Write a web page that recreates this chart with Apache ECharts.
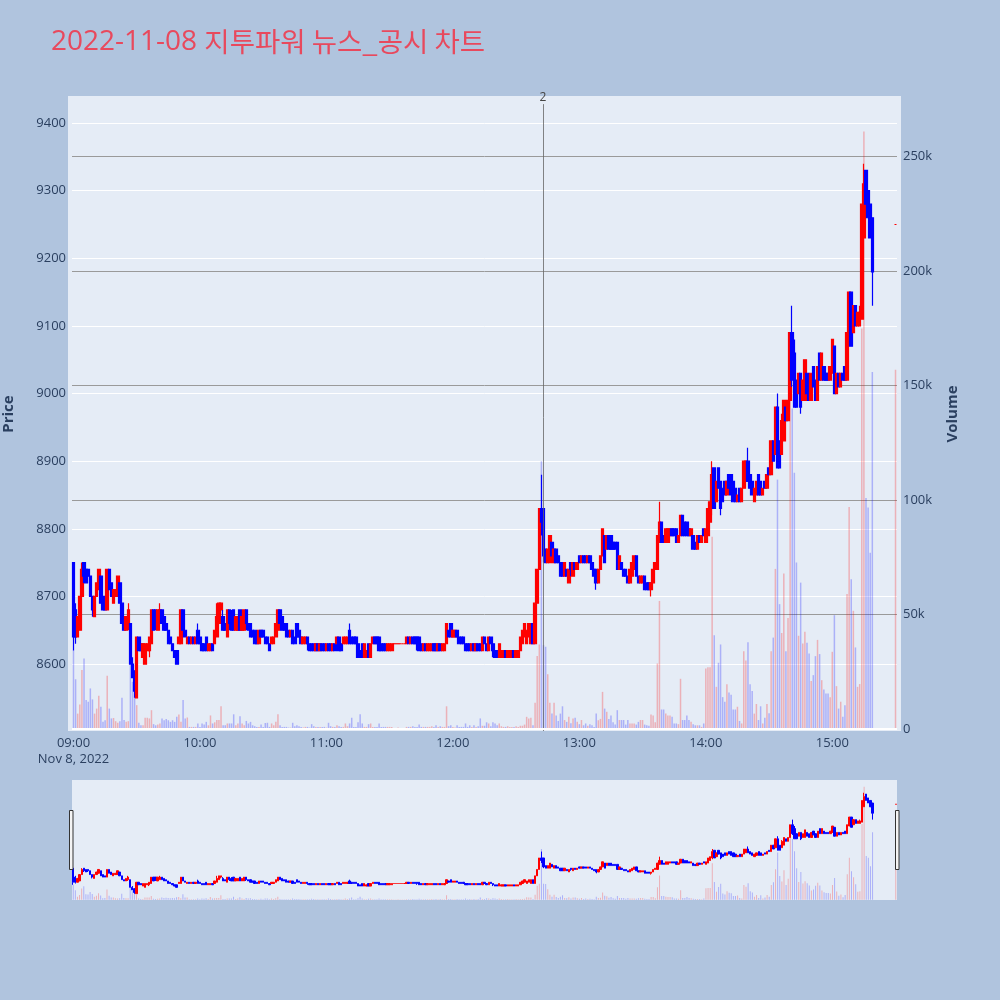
<!DOCTYPE html>
<html>
<head>
<meta charset="utf-8">
<script src="https://cdn.jsdelivr.net/npm/echarts@6/dist/echarts.min.js"></script>
<style>
html,body{margin:0;padding:0;background:#b0c4de;}
#chart{width:1000px;height:1000px;}
</style>
</head>
<body>
<div id="chart"></div>
<script>
// ---------------- DATA ----------------
const chartTitleDate = '2022-11-08';
const chartTitleText = '지투파워 뉴스_공시 차트';
const tradeDay = { year: 2022, month: 11, day: 8 };
const dateLabel = 'Nov 8, 2022';
const sessionStart = '09:00';      // first 1-minute candle, then one candle per minute
const closingAuction = '15:30';    // last (single-price) candle
const newsEvents = [{ time: '12:42:42', label: '2' }];

const opens = [
8750,8680,8640,8650,8700,8750,8740,8740,8730,8700,
8670,8700,8710,8730,8700,8690,8680,8740,8720,8690,
8700,8700,8720,8690,8660,8650,8660,8660,8600,8590,
8550,8640,8630,8610,8600,8620,8620,8630,8680,8680,
8650,8660,8680,8670,8660,8650,8640,8630,8620,8620,
8630,8630,8680,8650,8630,8640,8630,8640,8630,8650,
8640,8630,8630,8640,8620,8620,8630,8630,8640,8660,
8680,8670,8660,8640,8680,8670,8680,8650,8650,8680,
8650,8650,8680,8660,8660,8650,8650,8640,8630,8650,
8650,8640,8640,8630,8630,8630,8640,8650,8680,8670,
8660,8660,8650,8640,8650,8640,8660,8650,8640,8630,
8630,8640,8630,8630,8630,8620,8630,8620,8630,8630,
8620,8630,8630,8620,8630,8630,8640,8630,8630,8630,
8630,8650,8640,8640,8640,8630,8620,8630,8610,8610,
8630,8610,8630,8640,8640,8640,8630,8630,8630,8620,
8620,8620,8630,8630,8630,8630,8630,8630,8630,8640,
8630,8640,8640,8640,8640,8630,8620,8630,8620,8620,
8620,8630,8630,8620,8630,8620,8620,8630,8650,8660,
8640,8640,8650,8640,8640,8640,8630,8630,8630,8620,
8630,8620,8630,8630,8620,8640,8630,8620,8640,8630,
8620,8620,8610,8610,8610,8620,8610,8610,8610,8620,
8610,8610,8620,8630,8640,8630,8640,8630,8660,8630,
8690,8740,8830,8830,8770,8750,8750,8780,8750,8770,
8760,8750,8750,8730,8740,8720,8750,8730,8750,8740,
8760,8750,8760,8760,8750,8760,8750,8740,8740,8720,
8740,8760,8790,8770,8790,8790,8780,8780,8780,8740,
8750,8740,8740,8730,8720,8730,8740,8760,8730,8720,
8720,8730,8720,8720,8710,8720,8740,8740,8780,8810,
8790,8780,8780,8790,8800,8800,8800,8780,8790,8820,
8810,8810,8800,8790,8790,8780,8770,8790,8780,8800,
8780,8790,8810,8830,8890,8840,8890,8870,8860,8870,
8850,8880,8880,8870,8860,8840,8860,8840,8860,8870,
8900,8880,8870,8840,8850,8880,8870,8850,8870,8860,
8890,8880,8930,8910,8980,8930,8910,8930,8980,8960,
8990,9090,9060,9020,9000,9030,8990,8990,9030,9020,
8990,9040,9020,8990,9060,9020,9040,9030,9030,9020,
9030,9070,9000,9030,9010,9030,9040,9020,9080,9150,
9090,9130,9100,9100,9110,9230,9330,9300,9280,9260,
9250];

const closes = [
8640,8640,8670,8700,8740,8730,8720,8730,8700,8680,
8700,8720,8740,8690,8680,8680,8740,8710,8700,8710,
8710,8730,8690,8660,8650,8670,8680,8600,8580,8560,
8640,8620,8620,8630,8630,8630,8640,8680,8650,8660,
8680,8680,8660,8650,8650,8630,8630,8620,8610,8600,
8640,8680,8650,8640,8640,8630,8640,8630,8640,8630,
8630,8620,8620,8620,8630,8630,8620,8650,8670,8690,
8690,8650,8650,8680,8660,8650,8650,8670,8670,8650,
8670,8680,8660,8650,8640,8640,8630,8630,8650,8640,
8640,8630,8630,8620,8640,8640,8660,8680,8660,8650,
8650,8640,8640,8650,8630,8630,8640,8640,8630,8640,
8640,8630,8620,8620,8620,8630,8620,8630,8620,8620,
8630,8620,8620,8630,8620,8640,8620,8620,8640,8640,
8640,8630,8630,8630,8630,8610,8610,8610,8630,8620,
8610,8630,8640,8630,8630,8620,8620,8620,8620,8630,
8630,8630,8630,8630,8630,8630,8630,8630,8640,8630,
8640,8630,8630,8630,8620,8620,8630,8620,8630,8630,
8630,8620,8620,8630,8620,8630,8630,8660,8640,8640,
8650,8650,8640,8630,8630,8630,8620,8620,8620,8630,
8620,8630,8620,8620,8640,8630,8620,8640,8630,8620,
8610,8610,8630,8620,8620,8610,8620,8620,8620,8610,
8620,8620,8640,8650,8660,8650,8660,8660,8630,8690,
8740,8830,8810,8760,8750,8770,8790,8760,8770,8750,
8750,8730,8730,8750,8730,8740,8740,8750,8740,8750,
8750,8760,8750,8750,8760,8750,8740,8730,8720,8740,
8760,8800,8750,8790,8770,8770,8770,8770,8740,8760,
8740,8730,8730,8720,8740,8750,8760,8730,8720,8730,
8730,8710,8710,8710,8720,8740,8750,8790,8810,8780,
8780,8800,8800,8800,8790,8790,8780,8790,8820,8790,
8790,8790,8790,8800,8770,8770,8790,8780,8790,8790,
8800,8830,8840,8880,8830,8870,8860,8830,8840,8850,
8870,8860,8850,8840,8840,8850,8840,8860,8900,8900,
8870,8860,8850,8860,8870,8850,8850,8860,8860,8880,
8880,8930,8900,8980,8890,8890,8960,8990,8960,8990,
9090,9020,8980,8980,9030,8980,9020,9050,9000,8990,
9030,9010,8990,9040,9020,9060,9020,9020,9020,9040,
9080,9000,9030,9010,9030,9020,9020,9090,9150,9070,
9130,9100,9120,9120,9280,9310,9280,9260,9230,9180,
9250];

const lows = [
8620,8630,8640,8650,8700,8720,8720,8720,8700,8670,
8670,8700,8710,8690,8680,8680,8680,8710,8700,8690,
8700,8700,8690,8660,8650,8650,8650,8600,8580,8550,
8550,8620,8620,8610,8600,8620,8610,8630,8650,8650,
8650,8660,8660,8650,8650,8630,8630,8620,8610,8600,
8630,8630,8650,8640,8630,8630,8630,8630,8630,8630,
8630,8620,8620,8620,8620,8620,8620,8630,8640,8660,
8670,8650,8650,8640,8650,8650,8650,8650,8650,8650,
8650,8650,8650,8650,8640,8640,8630,8630,8630,8640,
8640,8630,8630,8620,8630,8630,8640,8650,8660,8650,
8650,8640,8640,8640,8630,8630,8640,8640,8630,8630,
8630,8620,8620,8620,8620,8620,8620,8620,8620,8620,
8620,8620,8620,8620,8620,8630,8620,8620,8630,8630,
8630,8630,8630,8630,8630,8610,8610,8610,8610,8610,
8610,8610,8630,8630,8630,8620,8620,8620,8620,8620,
8620,8620,8630,8630,8630,8630,8630,8630,8630,8630,
8630,8630,8630,8620,8620,8620,8620,8620,8620,8620,
8620,8620,8620,8620,8620,8620,8620,8630,8640,8640,
8640,8640,8640,8630,8630,8630,8620,8620,8620,8620,
8620,8620,8620,8620,8620,8630,8620,8620,8630,8610,
8610,8610,8610,8610,8610,8610,8610,8610,8610,8610,
8610,8610,8620,8630,8640,8630,8640,8630,8630,8630,
8690,8740,8790,8750,8750,8750,8750,8760,8750,8750,
8750,8730,8730,8730,8730,8720,8730,8730,8740,8740,
8750,8750,8750,8750,8750,8750,8740,8730,8710,8720,
8740,8760,8750,8770,8770,8770,8770,8770,8740,8740,
8740,8730,8730,8720,8720,8730,8740,8730,8720,8720,
8720,8710,8710,8710,8700,8720,8740,8740,8780,8780,
8780,8780,8780,8790,8790,8790,8780,8780,8790,8790,
8790,8790,8790,8790,8770,8770,8770,8780,8780,8790,
8780,8790,8810,8820,8830,8840,8860,8820,8840,8850,
8850,8860,8850,8840,8840,8840,8840,8840,8860,8870,
8870,8860,8850,8840,8850,8850,8850,8850,8860,8860,
8880,8880,8900,8910,8890,8890,8910,8930,8960,8960,
8990,9010,8980,8980,9000,8970,8990,8990,9000,8990,
8990,9010,8990,8990,9020,9020,9020,9020,9020,9020,
9030,9000,9000,9010,9010,9020,9020,9020,9080,9070,
9090,9100,9100,9100,9110,9230,9280,9260,9230,9130,
9250];

const highs = [
8750,8690,8670,8700,8750,8750,8740,8740,8730,8700,
8700,8720,8740,8730,8700,8690,8740,8740,8720,8710,
8710,8730,8720,8690,8660,8670,8690,8660,8610,8590,
8640,8640,8630,8630,8630,8630,8640,8680,8680,8680,
8680,8690,8680,8670,8660,8650,8640,8630,8620,8620,
8640,8680,8680,8650,8640,8640,8640,8640,8640,8660,
8640,8630,8630,8640,8630,8630,8630,8650,8690,8690,
8690,8680,8660,8680,8680,8680,8680,8670,8670,8680,
8670,8680,8680,8660,8660,8650,8650,8640,8650,8650,
8650,8640,8640,8630,8640,8640,8660,8680,8680,8670,
8660,8660,8650,8650,8650,8640,8660,8650,8640,8640,
8640,8640,8630,8630,8630,8630,8630,8630,8630,8630,
8630,8630,8630,8630,8630,8640,8640,8630,8640,8640,
8640,8660,8640,8640,8640,8630,8620,8630,8630,8620,
8630,8630,8640,8640,8640,8640,8630,8630,8630,8630,
8630,8630,8630,8630,8630,8630,8630,8630,8640,8640,
8640,8640,8640,8640,8640,8630,8630,8630,8630,8630,
8630,8630,8630,8630,8630,8630,8630,8660,8650,8660,
8650,8650,8650,8640,8640,8640,8630,8630,8630,8630,
8630,8630,8630,8630,8640,8640,8630,8640,8640,8630,
8620,8620,8630,8620,8620,8620,8620,8620,8620,8620,
8620,8620,8640,8650,8660,8650,8660,8660,8660,8690,
8740,8830,8880,8830,8770,8770,8790,8780,8770,8770,
8760,8750,8750,8750,8740,8740,8750,8750,8750,8750,
8760,8760,8760,8760,8760,8760,8750,8740,8740,8740,
8760,8800,8790,8790,8790,8790,8780,8780,8780,8760,
8750,8740,8740,8730,8740,8750,8760,8760,8730,8730,
8730,8730,8720,8720,8720,8740,8750,8790,8840,8810,
8790,8800,8800,8800,8800,8800,8800,8790,8820,8820,
8810,8810,8800,8800,8790,8780,8790,8790,8790,8800,
8800,8830,8840,8900,8890,8870,8890,8870,8860,8870,
8870,8880,8880,8870,8860,8850,8860,8860,8900,8900,
8920,8880,8870,8860,8870,8880,8870,8860,8870,8880,
8890,8930,8930,8980,9000,8930,8970,8990,8980,8990,
9090,9130,9080,9020,9030,9030,9020,9050,9030,9020,
9030,9040,9020,9040,9060,9060,9040,9030,9030,9040,
9080,9070,9030,9030,9030,9030,9040,9090,9150,9150,
9130,9130,9120,9130,9280,9340,9330,9300,9280,9260,
9250];

// volume in thousands of shares
const volumesK = [
34.5,21.8,6.8,10.8,25.8,30.9,12.7,12.0,17.8,13.0,
6.8,9.0,14.6,9.8,3.2,3.9,23.3,9.0,4.7,4.9,
3.5,2.8,3.5,13.7,4.0,3.2,3.5,28.0,20.7,14.0,
10.5,2.8,1.7,1.7,5.0,5.0,4.7,8.3,2.2,1.7,
2.0,2.5,4.7,3.9,4.4,3.9,3.2,3.9,3.2,5.4,
6.4,3.2,12.7,4.7,5.1,1.0,1.0,1.0,1.0,2.5,
1.0,2.5,2.0,3.2,1.7,6.0,2.5,3.0,4.0,4.0,
10.0,1.7,1.7,2.5,2.5,2.5,6.5,1.7,2.5,5.7,
2.5,1.7,3.6,2.5,3.2,1.7,1.3,1.0,1.0,2.0,
1.0,2.7,2.8,1.0,2.5,1.7,3.2,6.5,1.7,1.0,
1.0,1.0,0.7,0.7,2.8,1.3,1.7,1.3,1.0,0.7,
1.0,1.0,0.7,2.2,1.3,1.0,1.0,1.0,1.0,1.0,
0.7,2.8,1.3,1.0,1.0,1.7,1.3,1.0,1.0,2.5,
1.3,2.5,5.0,1.0,1.0,3.0,6.5,2.5,1.0,1.0,
2.2,2.5,1.0,1.0,1.0,2.5,1.0,1.0,1.0,1.0,
1.0,1.0,0.5,0.3,0.7,0.3,0.5,0.3,1.0,1.0,
1.0,1.3,1.0,1.0,2.0,1.0,1.0,1.0,1.0,1.0,
1.3,1.0,1.7,1.0,1.3,1.0,1.0,10.0,1.3,1.7,
1.0,0.7,1.7,1.0,1.0,1.0,2.5,1.0,1.7,1.0,
1.7,1.0,1.3,4.7,1.5,1.5,3.0,2.5,1.3,3.0,
2.5,1.7,2.5,1.3,1.0,1.0,1.3,1.0,1.0,1.0,
1.3,1.0,1.5,1.5,2.0,5.4,4.7,5.0,1.7,11.5,
32.0,37.0,117.0,36.7,36.0,24.0,11.5,6.8,11.5,6.0,
3.6,6.8,10.0,4.0,3.2,5.4,2.6,4.7,5.0,3.2,
2.2,4.0,1.7,2.5,1.5,2.2,1.7,1.0,6.8,3.9,
4.5,16.3,9.0,7.6,4.4,6.0,3.0,2.0,8.3,4.0,
4.0,4.0,2.0,4.0,2.5,2.5,2.5,2.0,3.2,4.0,
4.0,2.0,1.7,1.5,6.4,6.0,3.0,28.7,56.0,8.6,
8.6,6.8,6.0,6.0,5.4,2.5,2.5,2.2,22.0,4.0,
4.0,6.0,4.0,3.2,2.2,1.7,1.7,1.7,1.0,2.5,
26.5,27.0,27.0,84.0,41.0,18.5,29.0,37.0,14.0,12.0,
19.6,16.0,15.0,8.6,8.6,9.8,3.6,2.5,34.0,30.0,
38.0,19.6,16.7,6.8,11.0,4.0,10.0,2.5,5.0,11.0,
7.0,34.0,40.0,70.0,109.0,54.6,42.0,68.0,34.0,48.6,
173.0,140.0,112.0,72.8,40.8,64.0,37.4,42.5,37.7,33.0,
21.0,23.6,31.9,39.0,32.8,21.4,17.3,15.6,15.6,14.0,
33.8,49.8,18.8,9.0,12.0,5.4,10.5,59.0,97.0,65.5,
51.7,35.7,18.5,19.7,175.0,261.0,101.0,96.8,77.0,156.0,
157.0];

// ---------------- BUILD ----------------
function ts(hhmmss) {
  const p = hhmmss.split(':').map(Number);
  return new Date(tradeDay.year, tradeDay.month - 1, tradeDay.day, p[0], p[1], p[2] || 0).getTime();
}
const MIN = 60000;
const startTs = ts(sessionStart);
const times = opens.map((_, i) => i === opens.length - 1 ? ts(closingAuction) : startTs + i * MIN);

const UP = '#ff0000', DOWN = '#0000ff';
const candleData = times.map((t, i) => [t, opens[i], closes[i], lows[i], highs[i]]);
const volData = times.map((t, i) => ({
  value: [t, volumesK[i]],
  itemStyle: { color: closes[i] >= opens[i] ? 'rgba(255,0,0,0.25)' : 'rgba(0,0,255,0.25)' }
}));

const xMin = startTs - 0.35 * MIN;
const xMax = ts(closingAuction) + 0.35 * MIN;
const priceMin = 8501, priceMax = 9440;
const volMin = -0.79, volMax = 276.5;
const AXIS_TXT = '#2a3f5f';
const FONT = 'Open Sans';
const TITLE_RED = '#e8495d';

const eventLines = newsEvents.map(e => [
  { coord: [ts(e.time), 9428], label: { formatter: e.label } },
  { coord: [ts(e.time), priceMin] }
]);

const chart = echarts.init(document.getElementById('chart'), null, { renderer: 'canvas', width: 1000, height: 1000 });

const option = {
  backgroundColor: '#b0c4de',
  animation: false,
  title: {
    text: '{a|' + chartTitleDate + ' }{b|' + chartTitleText + '}',
    left: 46,
    top: 23,
    textStyle: {
      fontWeight: 'normal',
      rich: {
        a: { fontFamily: FONT, fontSize: 28, fontWeight: 'normal', color: TITLE_RED },
        b: { fontFamily: 'Noto Sans CJK KR', fontSize: 27.5, fontWeight: 'normal', color: TITLE_RED }
      }
    }
  },
  graphic: [
    { type: 'rect', z: -1, silent: true, shape: { x: 68, y: 96, width: 833, height: 635 }, style: { fill: '#e5ecf6' } },
    { type: 'rect', z: -1, silent: true, shape: { x: 72, y: 780, width: 825, height: 120 }, style: { fill: '#e5ecf6' } },
    { type: 'rect', z: 100, silent: true, shape: { x: 69.5, y: 810.5, width: 3.5, height: 59 }, style: { fill: '#f4f4f4', stroke: '#333', lineWidth: 1 } },
    { type: 'rect', z: 100, silent: true, shape: { x: 895.5, y: 810.5, width: 3.5, height: 59 }, style: { fill: '#f4f4f4', stroke: '#333', lineWidth: 1 } },
    { type: 'text', z: 100, x: 9, y: 414, rotation: Math.PI / 2,
      style: { text: 'Price', fill: AXIS_TXT, font: 'bold 15px "Open Sans"', align: 'center', verticalAlign: 'middle' } },
    { type: 'text', z: 100, x: 953, y: 414, rotation: Math.PI / 2,
      style: { text: 'Volume', fill: AXIS_TXT, font: 'bold 15px "Open Sans"', align: 'center', verticalAlign: 'middle' } }
  ],
  grid: [
    { left: 72, top: 96, width: 825, height: 635, show: false },
    { left: 72, top: 780, width: 825, height: 120, show: false }
  ],
  xAxis: [
    {
      type: 'time', gridIndex: 0, min: xMin, max: xMax,
      minInterval: 3600 * 1000, maxInterval: 3600 * 1000,
      axisLine: { show: false }, axisTick: { show: false }, splitLine: { show: false },
      axisLabel: {
        color: AXIS_TXT, fontFamily: FONT, fontSize: 13, margin: 4, lineHeight: 16,
        hideOverlap: false,
        formatter: function (v) {
          const d = new Date(v);
          if (d.getMinutes() !== 0 || d.getSeconds() !== 0) return '';
          const s = String(d.getHours()).padStart(2, '0') + ':00';
          return d.getHours() === 9 ? s + '\n' + dateLabel : s;
        }
      }
    },
    { type: 'time', gridIndex: 1, min: xMin, max: xMax, show: false }
  ],
  yAxis: [
    {
      type: 'value', gridIndex: 0, position: 'left', min: priceMin, max: priceMax, splitNumber: 10,
      axisLine: { show: false }, axisTick: { show: false },
      axisLabel: { color: AXIS_TXT, fontFamily: FONT, fontSize: 13, margin: 6, showMinLabel: false, showMaxLabel: false,
        formatter: v => String(v) },
      splitLine: { show: true, showMinLine: false, showMaxLine: false, lineStyle: { color: '#ffffff', width: 1 } }
    },
    {
      type: 'value', gridIndex: 0, position: 'right', min: volMin, max: volMax, splitNumber: 5,
      axisLine: { show: false }, axisTick: { show: false },
      axisLabel: { color: AXIS_TXT, fontFamily: FONT, fontSize: 13, margin: 6, showMinLabel: false, showMaxLabel: false,
        formatter: v => v === 0 ? '0' : v + 'k' },
      splitLine: { show: true, showMinLine: false, showMaxLine: false, lineStyle: { color: '#9a9a9a', width: 1 } }
    },
    { type: 'value', gridIndex: 1, min: priceMin, max: priceMax, show: false },
    { type: 'value', gridIndex: 1, min: volMin, max: volMax, show: false }
  ],
  series: [
    {
      type: 'candlestick', name: 'Price', xAxisIndex: 0, yAxisIndex: 0,
      encode: { x: 0, y: [1, 2, 3, 4] },
      data: candleData, barWidth: 3,
      itemStyle: { color: UP, color0: DOWN, borderColor: UP, borderColor0: DOWN, borderColorDoji: UP, borderWidth: 1.2 },
      markLine: {
        silent: true, symbol: 'none', animation: false,
        lineStyle: { color: '#666', width: 0.8, type: 'solid' },
        label: { show: true, position: 'start', distance: 1, color: '#444', fontFamily: FONT, fontSize: 12 },
        data: eventLines
      }
    },
    {
      type: 'bar', name: 'Volume', xAxisIndex: 0, yAxisIndex: 1,
      data: volData, barWidth: 1.5,
      markLine: {
        silent: true, symbol: 'none', animation: false,
        label: { show: false },
        lineStyle: { color: '#ffffff', width: 2, type: 'solid' },
        data: [{ yAxis: 0 }]
      }
    },
    {
      type: 'candlestick', xAxisIndex: 1, yAxisIndex: 2,
      encode: { x: 0, y: [1, 2, 3, 4] },
      data: candleData, barWidth: 1.8,
      itemStyle: { color: UP, color0: DOWN, borderColor: UP, borderColor0: DOWN, borderColorDoji: UP, borderWidth: 1 }
    },
    {
      type: 'bar', xAxisIndex: 1, yAxisIndex: 3,
      data: volData, barWidth: 1
    }
  ]
};
chart.setOption(option);
</script>
</body>
</html>
